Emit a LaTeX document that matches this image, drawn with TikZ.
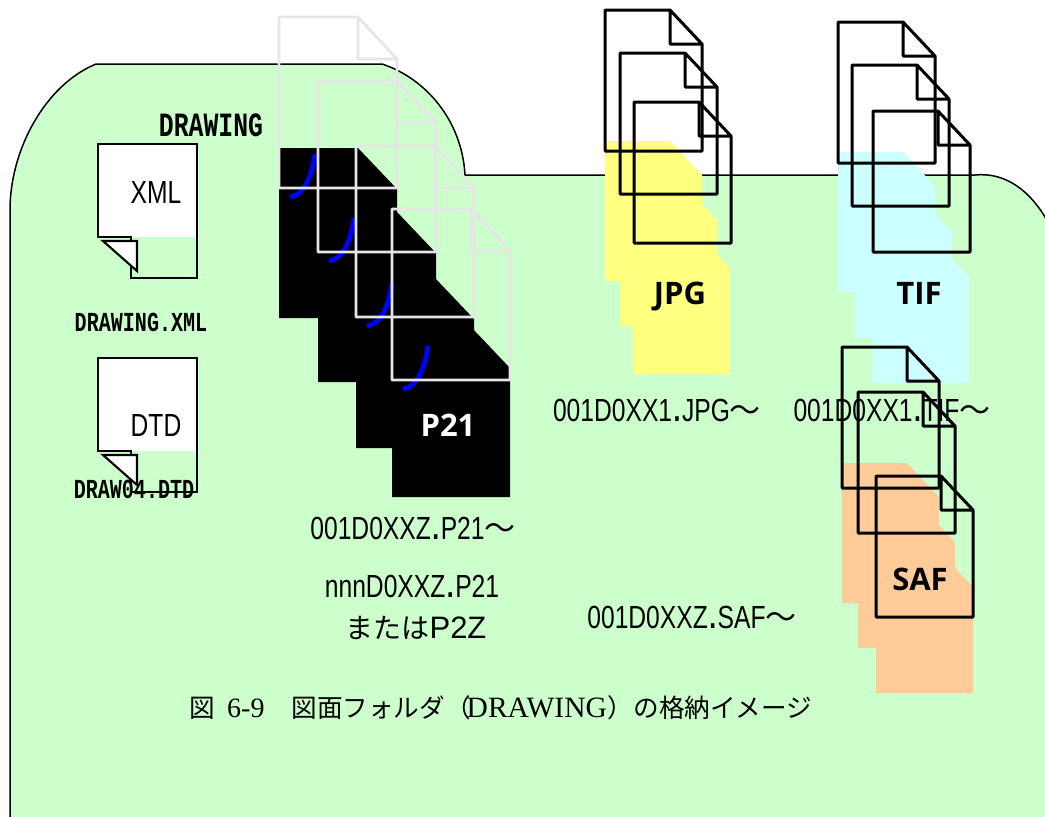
\documentclass[tikz,border=0pt]{standalone}
\usepackage{fontspec}
\usepackage{tikz}
\newfontfamily\gothicfont[FakeStretch=0.73]{Liberation Mono}
\newfontfamily\thinfont[FakeStretch=0.77]{Liberation Sans}
\newfontfamily\plainfont{Liberation Sans}
\newfontfamily\tagfont{Open Sans}
\newfontfamily\cjkfont{Noto Sans CJK JP}
\setmainfont{Liberation Serif}
\definecolor{foldergreen}{HTML}{CCFFCC}
\definecolor{jpgyellow}{HTML}{FFFF80}
\definecolor{tifcyan}{HTML}{CCFFFF}
\definecolor{safpeach}{HTML}{FFCC99}
\definecolor{sheetgray}{HTML}{E6E6E6}
\newcommand{\fsz}[1]{\fontsize{#1}{#1}\selectfont}
\newcommand{\sheetfill}[3]{\fill[#1] (#2,#3) -- ++(65,0) -- ++(32,34) -- ++(0,106) -- ++(-97,0) -- cycle;}
\newcommand{\sheetline}[2]{\draw[sheetedge] (#1,#2) -- ++(65,0) -- ++(32,34) -- ++(0,107) -- ++(-97,0) -- cycle
  (#1+65,#2) -- ++(0,34) -- ++(32,0);}
\newcommand{\wave}{{\cjkfont\fsz{31}〜}}
\newcommand{\bdot}{\hspace{1.5pt}{\bfseries.}\hspace{1.5pt}}
\tikzset{
  sheetedge/.style={draw=black,line width=3pt,line join=round},
  smallsheet/.style={draw=black,line width=2.1pt},
  filename/.style={font=\thinfont\fsz{32},inner sep=0pt},
  boldname/.style={font=\gothicfont\bfseries\fsz{27.5},inner sep=0pt},
  kindtag/.style={font=\tagfont\bfseries\fsz{31},inner sep=0pt},
  thintag/.style={font=\thinfont\fsz{32},inner sep=0pt}
}
\begin{document}
\begin{tikzpicture}[x=1pt,y=-1pt]
  \useasboundingbox (0,0) rectangle (1045,817);
  % folder
  \begin{scope}
    \clip (0,0) rectangle (1045,817);
    \filldraw[fill=foldergreen,draw=black,line width=1.5pt] (10,830) -- (10,210)
      .. controls (10,150) and (45,85) .. (96,64) -- (382,64)
      .. controls (425,78) and (462,120) .. (465,175) -- (975,175)
      .. controls (1005,172) and (1030,190) .. (1048,222) -- (1060,830) -- cycle;
  \end{scope}
  % xml and dtd
  \foreach \y/\m/\t/\l in {144/237/XML/192,358/451/DTD/425}{
    \fill[white] (98,\y) rectangle (197,\m);
    \draw[smallsheet] (131,\m) -- (98,\m) -- (98,\y) -- (197,\y) -- (197,\m+41) -- (131,\m+41) -- cycle;
    \filldraw[smallsheet,fill=white] (103,\m+4) -- (137,\m+4) -- (137,\m+34) -- cycle;
    \node[thintag] (tag\t) at (156,\l) {\t};
  }
  % p21 sheets
  \foreach \x/\y/\f in {279/17/131,318/81/131,356/146/132,392/209/118}
    \fill[black] (\x,\y+\f) -- (\x+79,\y+\f) -- (\x+118,\y+\f+41) -- (\x+118,\y+\f+170) -- (\x,\y+\f+170) -- cycle;
  \foreach \x/\y in {279/17,318/81,356/146,392/209}
    \draw[blue,line width=4.8pt] (\x+36,\y+137) .. controls (\x+33,\y+160) and (\x+25,\y+178) .. (\x+11,\y+180);
  \foreach \x/\y in {279/17,318/81,356/146,392/209}
    \draw[sheetgray,line width=2.8pt,line join=round] (\x,\y) -- (\x+79,\y) -- (\x+118,\y+42) -- (\x+118,\y+171) -- (\x,\y+171) -- cycle
      (\x+79,\y) -- (\x+79,\y+42) -- (\x+118,\y+42);
  % colour fills
  \sheetfill{jpgyellow}{605}{141}\sheetfill{jpgyellow}{620}{186}\sheetfill{jpgyellow}{633}{234}
  \sheetfill{tifcyan}{838}{152}\sheetfill{tifcyan}{855}{198}\sheetfill{tifcyan}{872}{243}
  \sheetfill{safpeach}{842}{463}\sheetfill{safpeach}{858}{508}\sheetfill{safpeach}{876}{553}
  % labels
  \node[boldname,font=\gothicfont\bfseries\fsz{34}] (drawingname) at (211,125) {DRAWING};
  \node[boldname] (xmlname) at (141,322) {DRAWING.XML};
  \node[boldname] (dtdname) at (134,489) {DRAW04.DTD};
  \node[kindtag,text=white] (tagP) at (448,425) {P21};
  \node[kindtag] (tagJ) at (680,297) {JPG};
  \node[kindtag] (tagT) at (919,293) {TIF};
  \node[kindtag] (tagS) at (920,579) {SAF};
  \node[filename] (p21first) at (413,528) {001D0XXZ\bdot P21\wave};
  \node[filename] (p21last) at (412,586) {nnnD0XXZ\bdot P21};
  \node[inner sep=0pt] (p2z) at (416,628) {{\cjkfont\fsz{28}または}{\plainfont\fsz{31}P2Z}};
  \node[filename] (jpgfirst) at (657,410) {001D0XX1\bdot JPG\wave};
  \node[filename] (tiffirst) at (892,410) {001D0XX1\bdot TIF\wave};
  \node[filename] (saffirst) at (692,617) {001D0XXZ\bdot SAF\wave};
  \node[inner sep=0pt,anchor=west] (caption) at (189,708) {{\cjkfont\fsz{25.6}図}\hspace{12.4pt}\fsz{28}6-9\hspace{27pt}{\cjkfont\fsz{25.6}図面フォルダ（}\hspace{-4pt}{\fsz{29.5}DRAWING}\hspace{1pt}{\cjkfont\fsz{25.6}）の格納イメージ}};
  % outlined sheets
  \sheetline{605}{10}\sheetline{620}{53}\sheetline{634}{102}
  \sheetline{838}{22}\sheetline{852}{65}\sheetline{873}{111}
  \sheetline{842}{347}\sheetline{858}{392}\sheetline{876}{476}
\end{tikzpicture}
\end{document}
